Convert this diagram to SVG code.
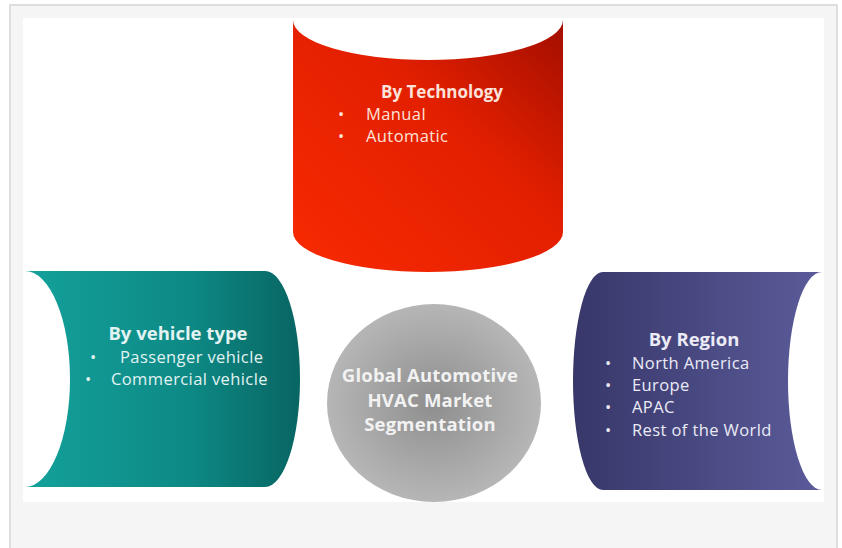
<svg xmlns="http://www.w3.org/2000/svg" width="842" height="548" viewBox="0 0 842 548">
<defs>
<linearGradient id="gRed" x1="1" y1="0" x2="0" y2="1">
<stop offset="0" stop-color="#a20e00"/>
<stop offset="0.4" stop-color="#e21f00"/>
<stop offset="1" stop-color="#f82a02"/>
</linearGradient>
<linearGradient id="gTeal" x1="0" y1="0" x2="1" y2="0">
<stop offset="0" stop-color="#14a19b"/>
<stop offset="0.6" stop-color="#0d8985"/>
<stop offset="1" stop-color="#086562"/>
</linearGradient>
<linearGradient id="gPurple" x1="0" y1="0" x2="1" y2="0">
<stop offset="0" stop-color="#37376a"/>
<stop offset="1" stop-color="#5b5b9a"/>
</linearGradient>
<radialGradient id="gGray" cx="0.5" cy="0.5" r="0.5">
<stop offset="0" stop-color="#8e8e8e"/>
<stop offset="1" stop-color="#b6b6b6"/>
</radialGradient>
</defs>
<style>
text{font-family:"Open Sans","Noto Sans",sans-serif;}
.h{font-weight:bold;font-size:18.5px;}
.i{font-size:16.5px;letter-spacing:0.4px;}
.c{font-weight:bold;font-size:18.5px;fill:#f2f2f2;text-anchor:middle;letter-spacing:0.2px;}
.red{fill:#fce2da;}
.teal{fill:#e2f3f2;}
.pur{fill:#ebebf6;}
</style>
<rect x="10" y="5" width="827" height="560" fill="#f5f5f5" stroke="#dedede" stroke-width="2"/>
<rect x="23" y="18" width="801" height="484" fill="#ffffff"/>
<g id="connectors"></g>
<g id="technology">
<path d="M293,20 A135,40 0 0 0 563,20 L563,232 A135,40 0 0 1 293,232 Z" fill="url(#gRed)"/>
<text class="red" x="442" y="98" text-anchor="middle" font-weight="bold" font-size="17px">By Technology</text>
<text class="i red" x="338" y="120">•</text>
<text class="i red" x="366" y="120">Manual</text>
<text class="i red" x="338" y="142">•</text>
<text class="i red" x="366" y="142">Automatic</text>
</g>
<g id="vehicle">
<path d="M25,271 L265,271 A35,108 0 0 1 265,487 L25,487 A45,108 0 0 0 25,271 Z" fill="url(#gTeal)"/>
<text class="h teal" x="178" y="340" text-anchor="middle">By vehicle type</text>
<text class="i teal" x="90" y="363">•</text>
<text class="i teal" x="120" y="363">Passenger vehicle</text>
<text class="i teal" x="85" y="385">•</text>
<text class="i teal" x="111" y="385">Commercial vehicle</text>
</g>
<g id="region">
<path d="M603,272 L822,272 A34,109 0 0 0 822,490 L603,490 A30,109 0 0 1 603,272 Z" fill="url(#gPurple)"/>
<text class="h pur" x="694" y="346" text-anchor="middle">By Region</text>
<text class="i pur" x="605" y="369">•</text>
<text class="i pur" x="632" y="369">North America</text>
<text class="i pur" x="605" y="391">•</text>
<text class="i pur" x="632" y="391">Europe</text>
<text class="i pur" x="605" y="413">•</text>
<text class="i pur" x="632" y="413">APAC</text>
<text class="i pur" x="605" y="436">•</text>
<text class="i pur" x="632" y="436">Rest of the World</text>
</g>
<g id="center">
<ellipse cx="434" cy="403" rx="107" ry="99" fill="url(#gGray)"/>
<text class="c" x="430" y="382">Global Automotive</text>
<text class="c" x="430" y="407">HVAC Market</text>
<text class="c" x="430" y="431">Segmentation</text>
</g>
</svg>
